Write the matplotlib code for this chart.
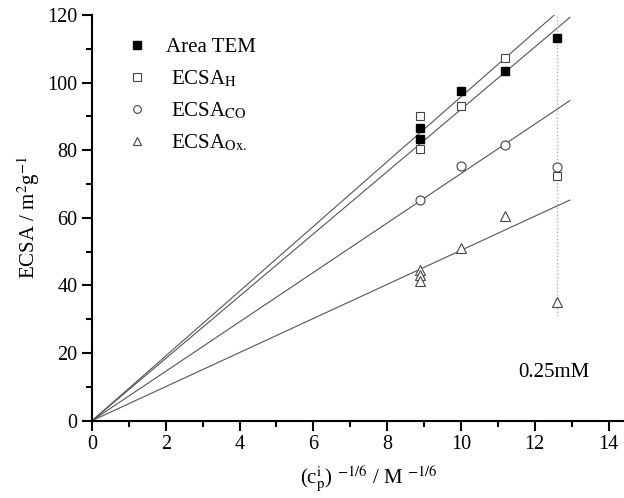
import matplotlib
matplotlib.use("Agg")
import matplotlib.pyplot as plt
import numpy as np
from matplotlib.ticker import MultipleLocator

# data (x = (c_p^i)^(-1/6))
x_tem = [8.9, 8.9, 10.0, 11.2, 12.6]
y_tem = [83.3, 86.5, 97.6, 103.3, 113.1]
x_h = [8.9, 8.9, 10.0, 11.2, 12.6]
y_h = [90.1, 80.4, 93.2, 107.3, 72.4]
x_co = [8.9, 10.0, 11.2, 12.6]
y_co = [65.2, 75.4, 81.4, 74.9]
x_ox = [8.9, 8.9, 8.9, 10.0, 11.2, 12.6]
y_ox = [44.6, 43.0, 41.4, 51.1, 60.6, 35.0]

# fitted slopes of lines through the origin
fit_slopes = [9.58, 9.21, 7.31, 5.04]
fit_xmax = 12.95
x_marker = 12.6
marker_label = "0.25mM"

plt.rcParams.update({"font.family": ["Liberation Serif", "DejaVu Serif"],
                     "mathtext.fontset": "stix", "font.size": 14})

fig = plt.figure(figsize=(6.24, 4.98), dpi=100)
ax = fig.add_axes([0.1474, 0.1552, 0.8516, 0.8147])

xf = np.array([0.0, fit_xmax])
for s in fit_slopes:
    ax.plot(xf, s * xf, color="#555555", lw=0.8, zorder=1)

ax.plot([x_marker, x_marker], [31, 120], color="#b0b0b0", lw=1.0, ls=(0, (1, 1.5)), zorder=1)

ms = 6.0
ax.plot(x_tem, y_tem, "s", color="black", ms=ms, ls="none", label="Area TEM", zorder=3)
ax.plot(x_h, y_h, "s", mfc="white", mec="#444444", mew=0.8, ms=ms, ls="none",
        label=r" ECSA$_{\mathrm{H}}$", zorder=3)
ax.plot(x_co, y_co, "o", mfc="white", mec="#444444", mew=0.8, ms=ms + 0.5, ls="none",
        label=r" ECSA$_{\mathrm{CO}}$", zorder=3)
ax.plot(x_ox, y_ox, "^", mfc="white", mec="#444444", mew=0.8, ms=ms + 1.5, ls="none",
        label=r" ECSA$_{\mathrm{Ox.}}$", zorder=3)

ax.text(11.55, 12.8, marker_label, fontsize=15, ha="left", va="baseline")

ax.set_xlim(0, 14.4)
ax.set_ylim(0, 120)
ax.xaxis.set_major_locator(MultipleLocator(2))
ax.xaxis.set_minor_locator(MultipleLocator(1))
ax.yaxis.set_major_locator(MultipleLocator(20))
ax.yaxis.set_minor_locator(MultipleLocator(10))
for sp in ("top", "right"):
    ax.spines[sp].set_visible(False)
for sp in ("left", "bottom"):
    ax.spines[sp].set_linewidth(1.5)
ax.tick_params(which="major", direction="out", length=7, width=1.5, labelsize=14.5)
ax.tick_params(which="minor", direction="out", length=4, width=1.5)

ax.set_xlabel(r"(c$_{\mathrm{p}}^{\mathrm{i}}$) $^{\mathrm{-1/6}}$ / M $^{\mathrm{-1/6}}$",
              fontsize=15, labelpad=4)
ax.xaxis.set_label_coords(0.52, -0.105)
ax.set_ylabel(r"ECSA / m$^{2}$g$^{-1}$", fontsize=15, labelpad=4)

leg = ax.legend(loc="upper left", bbox_to_anchor=(0.05, 0.965), frameon=False,
                fontsize=15, markerscale=0.85, handlelength=1.0, handletextpad=0.9,
                labelspacing=0.55, borderaxespad=0)

fig.savefig("out.png", dpi=100)
